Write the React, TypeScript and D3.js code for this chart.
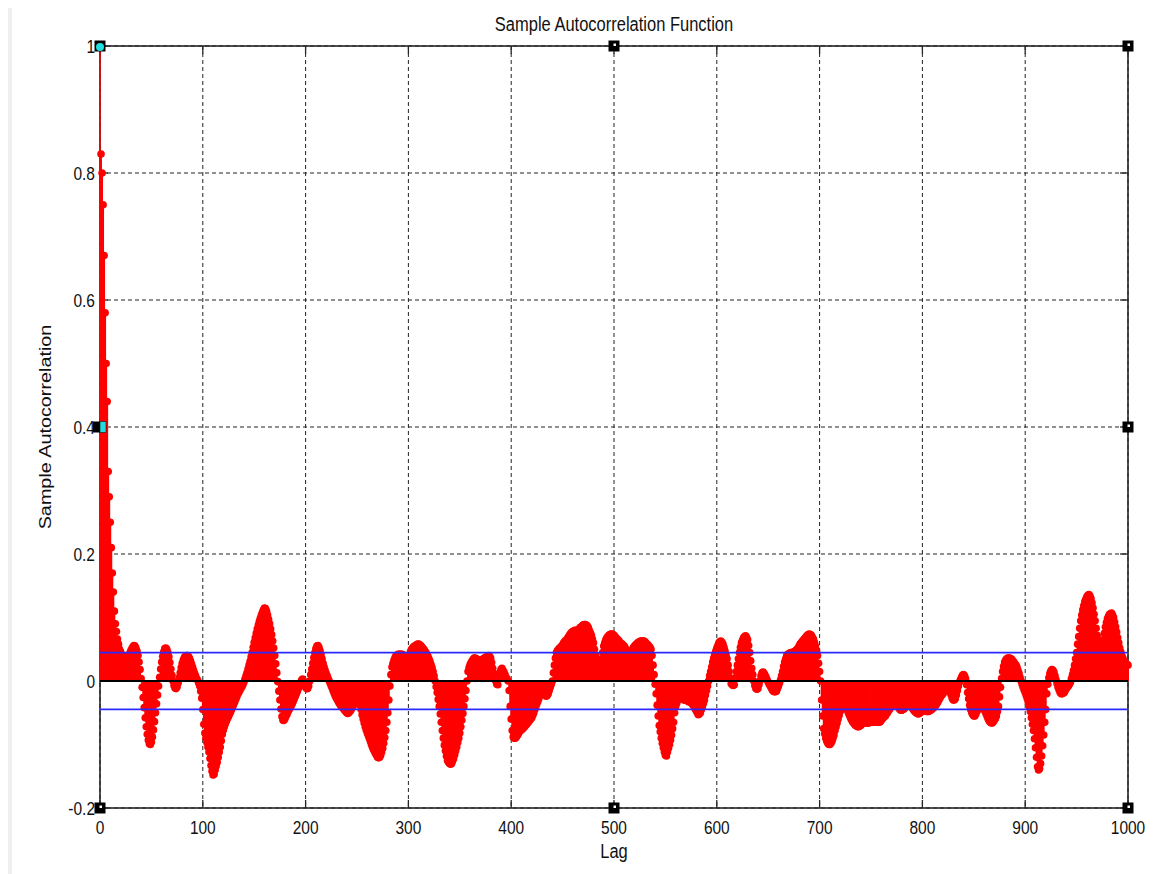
import React from "react";
import * as d3 from "d3";

// sample autocorrelation, one value per lag (blocks of 100 lags)
const acf000 = [
  1, 0.83, 0.8, 0.75, 0.67, 0.58, 0.5, 0.44, 0.33, 0.29, 0.25, 0.21, 0.17, 0.14, 0.11, 0.09, 0.078, 0.066, 0.058, 0.05,
  0.046, 0.042, 0.04, 0.037, 0.036, 0.034, 0.035, 0.037, 0.04, 0.044, 0.048, 0.051, 0.054, 0.056, 0.055, 0.052, 0.047, 0.04, 0.03, 0.018,
  0.004, -0.01, -0.026, -0.042, -0.058, -0.072, -0.084, -0.093, -0.099, -0.1, -0.096, -0.088, -0.077, -0.064, -0.05, -0.036, -0.022, -0.008, 0.006, 0.019,
  0.03, 0.039, 0.046, 0.051, 0.052, 0.05, 0.045, 0.038, 0.029, 0.019, 0.009, 0, -0.007, -0.011, -0.012, -0.009, -0.003, 0.005, 0.013, 0.021,
  0.028, 0.033, 0.037, 0.039, 0.04, 0.04, 0.039, 0.036, 0.032, 0.027, 0.022, 0.017, 0.012, 0.008, 0.004, 0.001, -0.003, -0.008, -0.016, -0.027,
];
const acf100 = [
  -0.045, -0.068, -0.082, -0.09, -0.097, -0.104, -0.112, -0.122, -0.133, -0.142, -0.148, -0.147, -0.14, -0.134, -0.128, -0.12, -0.112, -0.104, -0.094, -0.084,
  -0.077, -0.072, -0.067, -0.063, -0.059, -0.056, -0.052, -0.049, -0.045, -0.041, -0.037, -0.033, -0.029, -0.025, -0.021, -0.018, -0.015, -0.012, -0.009, -0.006,
  -0.002, 0.003, 0.008, 0.013, 0.019, 0.025, 0.031, 0.038, 0.045, 0.053, 0.061, 0.068, 0.075, 0.082, 0.088, 0.094, 0.099, 0.104, 0.108, 0.112,
  0.115, 0.114, 0.11, 0.104, 0.097, 0.09, 0.082, 0.073, 0.063, 0.052, 0.04, 0.027, 0.013, -0.001, -0.016, -0.03, -0.044, -0.056, -0.062, -0.062,
  -0.059, -0.055, -0.052, -0.048, -0.045, -0.042, -0.039, -0.036, -0.032, -0.028, -0.024, -0.02, -0.016, -0.012, -0.008, -0.003, 0.001, 0.003, 0, -0.005,
];
const acf200 = [
  -0.01, -0.012, -0.012, -0.008, 0, 0.01, 0.019, 0.028, 0.037, 0.045, 0.051, 0.055, 0.056, 0.053, 0.048, 0.042, 0.035, 0.028, 0.022, 0.017,
  0.012, 0.008, 0.004, 0, -0.004, -0.008, -0.012, -0.016, -0.02, -0.024, -0.027, -0.03, -0.033, -0.036, -0.038, -0.04, -0.042, -0.044, -0.046, -0.048,
  -0.05, -0.051, -0.05, -0.048, -0.046, -0.043, -0.04, -0.037, -0.033, -0.027, -0.022, -0.02, -0.03, -0.038, -0.045, -0.053, -0.06, -0.066, -0.072, -0.077,
  -0.082, -0.086, -0.09, -0.095, -0.1, -0.104, -0.108, -0.111, -0.114, -0.117, -0.12, -0.121, -0.12, -0.117, -0.112, -0.106, -0.098, -0.089, -0.078, -0.065,
  -0.05, -0.03, -0.008, 0.01, 0.022, 0.028, 0.033, 0.037, 0.04, 0.041, 0.042, 0.042, 0.042, 0.042, 0.042, 0.041, 0.04, 0.038, 0.035, 0.032,
];
const acf300 = [
  0.035, 0.041, 0.046, 0.05, 0.052, 0.054, 0.055, 0.056, 0.057, 0.058, 0.058, 0.057, 0.056, 0.054, 0.052, 0.05, 0.047, 0.045, 0.042, 0.039,
  0.035, 0.031, 0.026, 0.021, 0.015, 0.008, 0, -0.009, -0.018, -0.029, -0.04, -0.052, -0.065, -0.078, -0.09, -0.101, -0.11, -0.118, -0.125, -0.128,
  -0.13, -0.131, -0.13, -0.126, -0.122, -0.116, -0.11, -0.104, -0.097, -0.09, -0.082, -0.072, -0.062, -0.051, -0.04, -0.028, -0.015, 0, 0.015, 0.021,
  0.026, 0.029, 0.032, 0.034, 0.036, 0.036, 0.035, 0.034, 0.033, 0.033, 0.033, 0.033, 0.034, 0.035, 0.036, 0.037, 0.038, 0.039, 0.04, 0.039,
  0.036, 0.029, 0.02, 0.012, 0.005, 0, -0.005, -0.006, 0.005, 0.013, 0.018, 0.02, 0.017, 0.014, 0.01, 0.006, 0.003, 0, -0.015, -0.04,
];
const acf400 = [
  -0.06, -0.078, -0.088, -0.09, -0.09, -0.088, -0.086, -0.083, -0.08, -0.078, -0.077, -0.075, -0.074, -0.072, -0.07, -0.068, -0.066, -0.064, -0.062, -0.06,
  -0.058, -0.054, -0.05, -0.045, -0.04, -0.036, -0.032, -0.027, -0.022, -0.018, -0.016, -0.017, -0.018, -0.021, -0.024, -0.023, -0.02, -0.015, -0.01, -0.005,
  0, 0.013, 0.025, 0.036, 0.045, 0.048, 0.05, 0.052, 0.053, 0.055, 0.057, 0.06, 0.062, 0.064, 0.065, 0.068, 0.07, 0.073, 0.075, 0.077,
  0.078, 0.079, 0.08, 0.08, 0.079, 0.08, 0.082, 0.084, 0.085, 0.087, 0.088, 0.089, 0.089, 0.088, 0.087, 0.084, 0.08, 0.076, 0.072, 0.066,
  0.06, 0.05, 0.04, 0.032, 0.025, 0.021, 0.02, 0.026, 0.035, 0.045, 0.055, 0.06, 0.065, 0.068, 0.07, 0.072, 0.073, 0.074, 0.074, 0.073,
];
const acf500 = [
  0.072, 0.07, 0.068, 0.066, 0.065, 0.063, 0.06, 0.059, 0.058, 0.056, 0.055, 0.052, 0.048, 0.042, 0.035, 0.032, 0.04, 0.046, 0.05, 0.053,
  0.055, 0.057, 0.058, 0.06, 0.061, 0.062, 0.063, 0.063, 0.063, 0.063, 0.062, 0.06, 0.058, 0.057, 0.055, 0.053, 0.05, 0.04, 0.025, 0.01,
  -0.005, -0.02, -0.038, -0.055, -0.07, -0.08, -0.09, -0.098, -0.105, -0.112, -0.117, -0.118, -0.112, -0.106, -0.1, -0.093, -0.085, -0.075, -0.065, -0.05,
  -0.04, -0.035, -0.03, -0.027, -0.025, -0.025, -0.026, -0.028, -0.03, -0.03, -0.03, -0.031, -0.032, -0.033, -0.033, -0.034, -0.036, -0.038, -0.04, -0.044,
  -0.047, -0.05, -0.053, -0.052, -0.05, -0.045, -0.04, -0.035, -0.03, -0.022, -0.015, -0.008, 0, 0.008, 0.015, 0.022, 0.03, 0.036, 0.042, 0.047,
];
const acf600 = [
  0.052, 0.056, 0.06, 0.062, 0.063, 0.061, 0.058, 0.053, 0.047, 0.041, 0.035, 0.025, 0.015, 0.005, -0.004, -0.006, -0.007, -0.006, 0.005, 0.015,
  0.025, 0.035, 0.045, 0.053, 0.06, 0.064, 0.068, 0.07, 0.071, 0.069, 0.065, 0.056, 0.045, 0.032, 0.02, 0.01, 0, -0.007, -0.012, -0.013,
  -0.012, -0.006, 0, 0.008, 0.013, 0.014, 0.012, 0.009, 0.006, 0.002, -0.002, -0.005, -0.008, -0.011, -0.014, -0.016, -0.017, -0.017, -0.016, -0.012,
  -0.008, -0.003, 0.002, 0.008, 0.015, 0.023, 0.03, 0.035, 0.04, 0.042, 0.043, 0.044, 0.045, 0.045, 0.045, 0.046, 0.047, 0.048, 0.05, 0.052,
  0.055, 0.058, 0.06, 0.062, 0.064, 0.066, 0.068, 0.07, 0.072, 0.073, 0.074, 0.073, 0.072, 0.069, 0.066, 0.061, 0.055, 0.048, 0.04, 0.028,
];
const acf700 = [
  0.015, 0, -0.03, -0.055, -0.075, -0.083, -0.09, -0.095, -0.098, -0.1, -0.1, -0.098, -0.095, -0.09, -0.085, -0.078, -0.072, -0.066, -0.06, -0.054,
  -0.048, -0.045, -0.042, -0.041, -0.04, -0.041, -0.042, -0.046, -0.05, -0.054, -0.058, -0.061, -0.064, -0.066, -0.068, -0.07, -0.071, -0.072, -0.072, -0.071,
  -0.07, -0.068, -0.066, -0.065, -0.065, -0.066, -0.066, -0.066, -0.066, -0.065, -0.065, -0.065, -0.065, -0.064, -0.064, -0.064, -0.065, -0.065, -0.065, -0.064,
  -0.062, -0.06, -0.058, -0.056, -0.055, -0.052, -0.05, -0.047, -0.045, -0.042, -0.04, -0.038, -0.036, -0.034, -0.032, -0.035, -0.038, -0.042, -0.045, -0.046,
  -0.046, -0.045, -0.044, -0.042, -0.04, -0.039, -0.038, -0.038, -0.038, -0.04, -0.042, -0.045, -0.047, -0.049, -0.05, -0.051, -0.052, -0.051, -0.05, -0.048,
];
const acf800 = [
  -0.046, -0.046, -0.046, -0.047, -0.048, -0.048, -0.048, -0.047, -0.046, -0.045, -0.043, -0.042, -0.04, -0.038, -0.036, -0.033, -0.03, -0.027, -0.024, -0.022,
  -0.02, -0.017, -0.015, -0.013, -0.012, -0.012, -0.014, -0.018, -0.022, -0.027, -0.03, -0.03, -0.028, -0.022, -0.015, -0.008, -0.002, 0.002, 0.006, 0.009,
  0.01, 0.008, 0.004, -0.006, -0.018, -0.028, -0.038, -0.045, -0.05, -0.053, -0.055, -0.055, -0.052, -0.048, -0.045, -0.041, -0.038, -0.038, -0.04, -0.042,
  -0.045, -0.048, -0.052, -0.056, -0.06, -0.063, -0.065, -0.066, -0.066, -0.064, -0.062, -0.059, -0.055, -0.048, -0.04, -0.025, -0.01, 0.004, 0.015, 0.023,
  0.03, 0.033, 0.035, 0.036, 0.036, 0.036, 0.035, 0.034, 0.032, 0.03, 0.027, 0.025, 0.022, 0.017, 0.012, 0.006, 0, -0.005, -0.01, -0.014,
];
const acf900 = [
  -0.018, -0.023, -0.028, -0.034, -0.04, -0.048, -0.058, -0.068, -0.078, -0.091, -0.105, -0.12, -0.135, -0.14, -0.138, -0.13, -0.118, -0.102, -0.085, -0.065,
  -0.045, -0.02, -0.005, 0.005, 0.012, 0.016, 0.018, 0.017, 0.014, 0.008, 0.002, -0.004, -0.01, -0.014, -0.018, -0.02, -0.02, -0.019, -0.018, -0.015,
  -0.012, -0.01, -0.008, -0.005, -0.002, 0.004, 0.01, 0.017, 0.025, 0.035, 0.045, 0.058, 0.07, 0.083, 0.095, 0.104, 0.112, 0.119, 0.125, 0.129,
  0.133, 0.135, 0.136, 0.134, 0.13, 0.123, 0.115, 0.105, 0.095, 0.083, 0.072, 0.065, 0.06, 0.057, 0.055, 0.058, 0.065, 0.075, 0.085, 0.092,
  0.098, 0.102, 0.105, 0.106, 0.107, 0.104, 0.1, 0.093, 0.085, 0.077, 0.068, 0.06, 0.052, 0.046, 0.04, 0.036, 0.032, 0.03, 0.027, 0.026,
  0.025,
];

const confBound = 0.0447;
const xTicks = [0, 100, 200, 300, 400, 500, 600, 700, 800, 900, 1000];
const yTicks = [-0.2, 0, 0.2, 0.4, 0.6, 0.8, 1];

const acf = [
  ...acf000, ...acf100, ...acf200, ...acf300, ...acf400,
  ...acf500, ...acf600, ...acf700, ...acf800, ...acf900,
];

const W = 1155;
const H = 874;
const FONT = "'Liberation Sans', Arial, sans-serif";
const STRETCH = 1.2;

function Label({ x, y, size, anchor = "middle", rotate = 0, children }: any) {
  return (
    <text
      transform={`translate(${x},${y}) scale(1,${STRETCH}) rotate(${rotate})`}
      fontFamily={FONT}
      fontSize={size}
      textAnchor={anchor}
      fill="#111"
    >
      {children}
    </text>
  );
}

// MATLAB-style axes selection handle
function Handle({ x, y }: { x: number; y: number }) {
  return (
    <g>
      <rect x={x - 5.5} y={y - 5.5} width={11} height={11} fill="#000" />
      <rect x={x - 0.5} y={y - 2.5} width={2.5} height={2.5} fill="#fff" />
    </g>
  );
}

export default function App() {
  const x = d3.scaleLinear().domain([0, 1000]).range([100, 1128]);
  const y = d3.scaleLinear().domain([-0.2, 1]).range([808, 46]);
  const [x0, x1] = x.range();
  const [yb, yt] = y.range();
  const xm = (x0 + x1) / 2;
  const ym = (yb + yt) / 2;
  const tickLen = 8;

  return (
    <svg
      width={W}
      height={H}
      style={{ position: "absolute", left: 0, top: 0, background: "#fff" }}
    >
      <rect x={8} y={8} width={4} height={H - 8} fill="#efefef" />

      {/* grid */}
      <g stroke="#222" strokeWidth={1} strokeDasharray="4,3">
        {xTicks.map((t) => (
          <line key={`gx${t}`} x1={x(t)} x2={x(t)} y1={yt} y2={yb} />
        ))}
        {yTicks.map((t) => (
          <line key={`gy${t}`} x1={x0} x2={x1} y1={y(t)} y2={y(t)} />
        ))}
      </g>

      {/* axes box and ticks */}
      <rect
        x={x0}
        y={yt}
        width={x1 - x0}
        height={yb - yt}
        fill="none"
        stroke="#262626"
        strokeWidth={1.6}
      />
      <g stroke="#262626" strokeWidth={1.3}>
        {xTicks.map((t) => (
          <g key={`tx${t}`}>
            <line x1={x(t)} x2={x(t)} y1={yb} y2={yb - tickLen} />
            <line x1={x(t)} x2={x(t)} y1={yt} y2={yt + tickLen} />
          </g>
        ))}
        {yTicks.map((t) => (
          <g key={`ty${t}`}>
            <line x1={x0} x2={x0 + tickLen} y1={y(t)} y2={y(t)} />
            <line x1={x1} x2={x1 - tickLen} y1={y(t)} y2={y(t)} />
          </g>
        ))}
      </g>

      {/* stems */}
      <g stroke="#ff0000" strokeWidth={1.9}>
        {acf.map((v, i) => (
          <line
            key={`s${i}`}
            x1={x(i)}
            x2={x(i)}
            y1={y(0)}
            y2={y(v)}
            strokeWidth={i === 0 ? 1.4 : undefined}
          />
        ))}
      </g>
      <g fill="#ff0000">
        {acf.map((v, i) =>
          i === 0 ? null : <circle key={`m${i}`} cx={x(i)} cy={y(v)} r={3.8} />
        )}
      </g>

      {/* confidence bounds and baseline */}
      <g stroke="#2a2aff" strokeWidth={1.6}>
        <line x1={x0} x2={x1} y1={y(confBound)} y2={y(confBound)} />
        <line x1={x0} x2={x1} y1={y(-confBound)} y2={y(-confBound)} />
      </g>
      <line x1={x0} x2={x1} y1={y(0)} y2={y(0)} stroke="#000" strokeWidth={2} />

      {/* tick labels */}
      {xTicks.map((t) => (
        <Label key={`lx${t}`} x={x(t)} y={834} size={15.5}>
          {t}
        </Label>
      ))}
      {yTicks.map((t) => (
        <Label key={`ly${t}`} x={95} y={y(t) + 6.5} size={15.5} anchor="end">
          {String(t)}
        </Label>
      ))}

      <Label x={xm} y={31} size={16.5}>
        Sample Autocorrelation Function
      </Label>
      <Label x={xm} y={858} size={16.5}>
        Lag
      </Label>
      <Label x={51} y={ym} size={16.5} rotate={-90}>
        Sample Autocorrelation
      </Label>

      {/* selection handles */}
      <Handle x={x1} y={yt} />
      <Handle x={xm} y={yt} />
      <Handle x={x1} y={ym} />
      <Handle x={x1} y={yb} />
      <Handle x={xm} y={yb} />
      <Handle x={x0} y={yb} />
      <rect x={x0 - 5.5} y={yt - 5.5} width={11} height={11} fill="#000" />
      <circle cx={x0} cy={yt + 1} r={4} fill="#22dddd" />
      <rect x={x0 - 7} y={ym - 5.5} width={7} height={11} fill="#000" />
      <rect x={x0} y={ym - 5.5} width={6} height={11} fill="#22dddd" stroke="#000" strokeWidth={0.5} />
    </svg>
  );
}
